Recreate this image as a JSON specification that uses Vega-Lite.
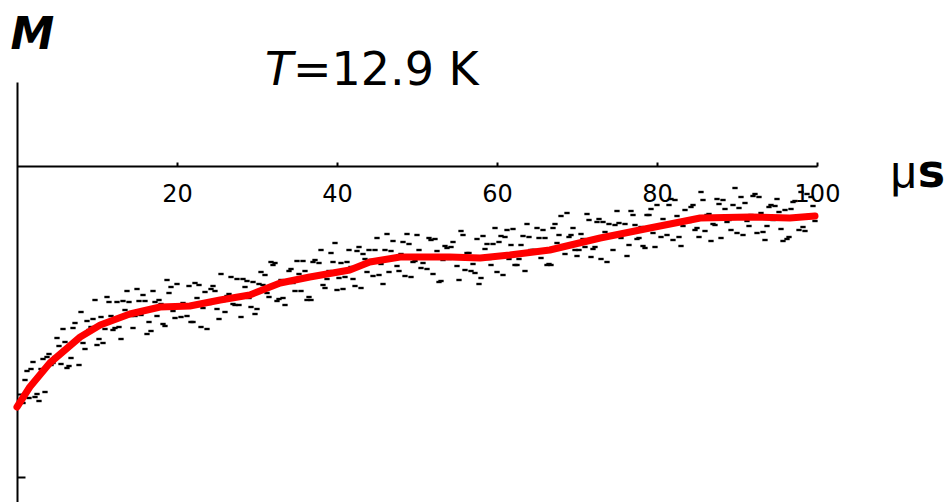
{
"$schema": "https://vega.github.io/schema/vega-lite/v6.json",
"width": 800, "height": 420,
"autosize": {"type": "none"},
"padding": {"left": 17, "top": 82, "right": 127, "bottom": 0},
"background": "white",
"config": {"view": {"stroke": null}, "font": "DejaVu Sans"},
"datasets": {
"fit": [
{"t":0,"M":0.95},{"t":1.6,"M":1.15},{"t":4.1,"M":1.39},{"t":7.9,"M":1.65},{"t":10.4,"M":1.77},{"t":14.1,"M":1.88},{"t":17.9,"M":1.95},{"t":21.6,"M":1.96},{"t":25.4,"M":2.02},{"t":29.1,"M":2.07},{"t":32.9,"M":2.19},{"t":36.6,"M":2.25},{"t":41.6,"M":2.32},{"t":44.1,"M":2.40},{"t":47.9,"M":2.45},{"t":54.1,"M":2.45},{"t":57.9,"M":2.44},{"t":61.6,"M":2.47},{"t":66.6,"M":2.52},{"t":72.9,"M":2.64},{"t":75.4,"M":2.68},{"t":79.1,"M":2.74},{"t":82.9,"M":2.80},{"t":85.4,"M":2.84},{"t":91.6,"M":2.85},{"t":96.6,"M":2.84},{"t":99.75,"M":2.86}
],
"labels": [
{"label":"T","part":"italic"},{"label":"=12.9 K","part":"roman"}
]
},
"layer": [
{"data": {"values": [
{"t":1.0,"M":1.22},{"t":1.5,"M":1.04},{"t":2.0,"M":1.40},{"t":2.5,"M":1.08},{"t":3.0,"M":1.33},{"t":3.5,"M":1.10},{"t":4.0,"M":1.48},{"t":4.5,"M":1.39},{"t":5.0,"M":1.64},{"t":5.5,"M":1.38},
{"t":6.0,"M":1.60},{"t":6.5,"M":1.36},{"t":7.0,"M":1.74},{"t":7.5,"M":1.61},{"t":8.0,"M":1.90},{"t":8.5,"M":1.53},{"t":9.0,"M":1.72},{"t":9.5,"M":1.83},{"t":10.0,"M":1.57},{"t":10.5,"M":1.85},
{"t":11.0,"M":1.73},{"t":11.5,"M":2.00},{"t":12.0,"M":1.72},{"t":12.5,"M":2.00},{"t":13.0,"M":1.63},{"t":13.5,"M":1.92},{"t":14.0,"M":2.00},{"t":14.5,"M":1.74},{"t":15.0,"M":2.13},{"t":15.5,"M":1.87},
{"t":16.0,"M":2.01},{"t":16.5,"M":1.80},{"t":17.0,"M":2.11},{"t":17.5,"M":1.86},{"t":18.0,"M":1.98},{"t":18.5,"M":1.76},{"t":19.0,"M":2.09},{"t":19.5,"M":1.91},{"t":20.0,"M":2.18},{"t":20.5,"M":1.85},
{"t":21.0,"M":1.97},{"t":21.5,"M":2.16},{"t":22.0,"M":1.80},{"t":22.5,"M":2.04},{"t":23.0,"M":1.75},{"t":23.5,"M":2.10},{"t":24.0,"M":1.98},{"t":24.5,"M":2.16},{"t":25.0,"M":1.93},{"t":25.5,"M":2.28},
{"t":26.0,"M":1.90},{"t":26.5,"M":2.08},{"t":27.0,"M":1.98},{"t":27.5,"M":2.23},{"t":28.0,"M":1.85},{"t":28.5,"M":2.15},{"t":29.0,"M":2.04},{"t":29.5,"M":2.20},{"t":30.0,"M":1.93},{"t":30.5,"M":2.30},
{"t":31.0,"M":2.27},{"t":31.5,"M":2.05},{"t":32.0,"M":2.37},{"t":32.5,"M":2.01},{"t":33.0,"M":2.22},{"t":33.5,"M":1.97},{"t":34.0,"M":2.31},{"t":34.5,"M":2.19},{"t":35.0,"M":2.41},{"t":35.5,"M":2.11},
{"t":36.0,"M":2.31},{"t":36.5,"M":2.05},{"t":37.0,"M":2.40},{"t":37.5,"M":2.25},{"t":38.0,"M":2.52},{"t":38.5,"M":2.14},{"t":39.0,"M":2.31},{"t":39.5,"M":2.40},{"t":40.0,"M":2.12},{"t":40.5,"M":2.39},
{"t":41.0,"M":2.25},{"t":41.5,"M":2.52},{"t":42.0,"M":2.23},{"t":42.5,"M":2.51},{"t":43.0,"M":2.14},{"t":43.5,"M":2.43},{"t":44.0,"M":2.52},{"t":44.5,"M":2.26},{"t":45.0,"M":2.64},{"t":45.5,"M":2.38},
{"t":46.0,"M":2.52},{"t":46.5,"M":2.30},{"t":47.0,"M":2.61},{"t":47.5,"M":2.36},{"t":48.0,"M":2.48},{"t":48.5,"M":2.26},{"t":49.0,"M":2.58},{"t":49.5,"M":2.40},{"t":50.0,"M":2.67},{"t":50.5,"M":2.34},
{"t":51.0,"M":2.45},{"t":51.5,"M":2.64},{"t":52.0,"M":2.28},{"t":52.5,"M":2.51},{"t":53.0,"M":2.21},{"t":53.5,"M":2.56},{"t":54.0,"M":2.43},{"t":54.5,"M":2.60},{"t":55.0,"M":2.36},{"t":55.5,"M":2.71},
{"t":56.0,"M":2.32},{"t":56.5,"M":2.49},{"t":57.0,"M":2.38},{"t":57.5,"M":2.63},{"t":58.0,"M":2.24},{"t":58.5,"M":2.53},{"t":59.0,"M":2.43},{"t":59.5,"M":2.58},{"t":60.0,"M":2.30},{"t":60.5,"M":2.66},
{"t":61.0,"M":2.65},{"t":61.5,"M":2.43},{"t":62.0,"M":2.73},{"t":62.5,"M":2.37},{"t":63.0,"M":2.57},{"t":63.5,"M":2.31},{"t":64.0,"M":2.65},{"t":64.5,"M":2.52},{"t":65.0,"M":2.74},{"t":65.5,"M":2.44},
{"t":66.0,"M":2.64},{"t":66.5,"M":2.38},{"t":67.0,"M":2.74},{"t":67.5,"M":2.59},{"t":68.0,"M":2.86},{"t":68.5,"M":2.48},{"t":69.0,"M":2.65},{"t":69.5,"M":2.74},{"t":70.0,"M":2.46},{"t":70.5,"M":2.68},
{"t":71.0,"M":2.55},{"t":71.5,"M":2.82},{"t":72.0,"M":2.53},{"t":72.5,"M":2.80},{"t":73.0,"M":2.43},{"t":73.5,"M":2.70},{"t":74.0,"M":2.78},{"t":74.5,"M":2.52},{"t":75.0,"M":2.91},{"t":75.5,"M":2.64},
{"t":76.0,"M":2.78},{"t":76.5,"M":2.57},{"t":77.0,"M":2.87},{"t":77.5,"M":2.63},{"t":78.0,"M":2.75},{"t":78.5,"M":2.54},{"t":79.0,"M":2.87},{"t":79.5,"M":2.69},{"t":80.0,"M":2.97},{"t":80.5,"M":2.65},
{"t":81.0,"M":2.77},{"t":81.5,"M":2.97},{"t":82.0,"M":2.62},{"t":82.5,"M":2.86},{"t":83.0,"M":2.56},{"t":83.5,"M":2.92},{"t":84.0,"M":2.80},{"t":84.5,"M":2.97},{"t":85.0,"M":2.74},{"t":85.5,"M":3.10},
{"t":86.0,"M":2.71},{"t":86.5,"M":2.88},{"t":87.0,"M":2.78},{"t":87.5,"M":3.03},{"t":88.0,"M":2.64},{"t":88.5,"M":2.93},{"t":89.0,"M":2.82},{"t":89.5,"M":2.97},{"t":90.0,"M":2.69},{"t":90.5,"M":3.05},
{"t":91.0,"M":2.99},{"t":91.5,"M":2.76},{"t":92.0,"M":3.06},{"t":92.5,"M":2.69},{"t":93.0,"M":2.89},{"t":93.5,"M":2.62},{"t":94.0,"M":2.95},{"t":94.5,"M":2.82},{"t":95.0,"M":3.03},{"t":95.5,"M":2.73},
{"t":96.0,"M":2.92},{"t":96.5,"M":2.65},{"t":97.0,"M":3.00},{"t":97.5,"M":2.84},{"t":98.0,"M":3.10},{"t":98.5,"M":2.71},{"t":99.0,"M":2.87},{"t":99.5,"M":2.96},
{"t":1.25,"M":1.31},{"t":2.25,"M":1.05},{"t":3.25,"M":1.43},{"t":4.25,"M":1.37},{"t":5.25,"M":1.56},{"t":6.25,"M":1.34},{"t":7.25,"M":1.79},{"t":8.25,"M":1.59},{"t":9.25,"M":1.75},{"t":10.25,"M":1.63},
{"t":11.25,"M":2.05},{"t":12.25,"M":1.74},{"t":13.25,"M":2.01},{"t":14.25,"M":1.86},{"t":15.25,"M":2.01},{"t":16.25,"M":1.68},{"t":17.25,"M":2.00},{"t":18.25,"M":1.78},{"t":19.25,"M":2.15},{"t":20.25,"M":1.96},
{"t":21.25,"M":1.86},{"t":22.25,"M":2.19},{"t":23.25,"M":1.94},{"t":24.25,"M":2.13},{"t":25.25,"M":1.83},{"t":26.25,"M":2.06},{"t":27.25,"M":1.97},{"t":28.25,"M":2.23},{"t":29.25,"M":1.95},{"t":30.25,"M":2.18},
{"t":31.25,"M":2.09},{"t":32.25,"M":2.39},{"t":33.25,"M":2.04},{"t":34.25,"M":2.33},{"t":35.25,"M":2.28},{"t":36.25,"M":2.02},{"t":37.25,"M":2.42},{"t":38.25,"M":2.17},{"t":39.25,"M":2.49},{"t":40.25,"M":2.24},
{"t":41.25,"M":2.40},{"t":42.25,"M":2.16},{"t":43.25,"M":2.48},{"t":44.25,"M":2.42},{"t":45.25,"M":2.27},{"t":46.25,"M":2.68},{"t":47.25,"M":2.43},{"t":48.25,"M":2.60},{"t":49.25,"M":2.25},{"t":50.25,"M":2.52},
{"t":51.25,"M":2.33},{"t":52.25,"M":2.63},{"t":53.25,"M":2.42},{"t":54.25,"M":2.55},{"t":55.25,"M":2.22},{"t":56.25,"M":2.49},{"t":57.25,"M":2.29},{"t":58.25,"M":2.66},{"t":59.25,"M":2.37},{"t":60.25,"M":2.60},
{"t":61.25,"M":2.72},{"t":62.25,"M":2.37},{"t":63.25,"M":2.66},{"t":64.25,"M":2.52},{"t":65.25,"M":2.64},{"t":66.25,"M":2.37},{"t":67.25,"M":2.78},{"t":68.25,"M":2.55},{"t":69.25,"M":2.67},{"t":70.25,"M":2.52},
{"t":71.25,"M":2.88},{"t":72.25,"M":2.55},{"t":73.25,"M":2.80},{"t":74.25,"M":2.65},{"t":75.25,"M":2.79},{"t":76.25,"M":2.46},{"t":77.25,"M":2.77},{"t":78.25,"M":2.56},{"t":79.25,"M":2.93},{"t":80.25,"M":2.76},
{"t":81.25,"M":2.67},{"t":82.25,"M":3.02},{"t":83.25,"M":2.76},{"t":84.25,"M":2.95},{"t":85.25,"M":2.65},{"t":86.25,"M":2.87},{"t":87.25,"M":2.77},{"t":88.25,"M":3.02},{"t":89.25,"M":2.72},{"t":90.25,"M":2.94},
{"t":91.25,"M":2.81},{"t":92.25,"M":3.08},{"t":93.25,"M":2.70},{"t":94.25,"M":2.97},{"t":95.25,"M":2.90},{"t":96.25,"M":2.63},{"t":97.25,"M":3.01},{"t":98.25,"M":2.75},{"t":99.25,"M":3.05},
{"t":0.75,"M":0.99},{"t":1.75,"M":1.33},{"t":2.75,"M":1.01},{"t":3.75,"M":1.45},{"t":4.75,"M":1.45},{"t":5.75,"M":1.73},{"t":6.75,"M":1.44},{"t":7.75,"M":1.37},{"t":8.75,"M":1.81},{"t":9.75,"M":2.02},
{"t":10.75,"M":1.59},{"t":11.75,"M":1.86},{"t":12.75,"M":1.75},{"t":13.75,"M":2.11},{"t":14.75,"M":1.86},{"t":15.75,"M":2.07},{"t":16.75,"M":1.71},{"t":17.75,"M":2.02},{"t":18.75,"M":2.22},{"t":19.75,"M":1.84},
{"t":20.75,"M":1.99},{"t":21.75,"M":1.80},{"t":22.75,"M":2.17},{"t":23.75,"M":1.73},{"t":24.75,"M":2.11},{"t":25.75,"M":2.01},{"t":26.75,"M":2.25},{"t":27.75,"M":1.97},{"t":28.75,"M":2.21},{"t":29.75,"M":1.88},
{"t":30.75,"M":2.17},{"t":31.75,"M":2.40},{"t":32.75,"M":2.03},{"t":33.75,"M":2.20},{"t":34.75,"M":2.11},{"t":35.75,"M":2.41},{"t":36.75,"M":2.02},{"t":37.75,"M":2.39},{"t":38.75,"M":2.23},{"t":39.75,"M":2.59},
{"t":40.75,"M":2.13},{"t":41.75,"M":2.35},{"t":42.75,"M":2.55},{"t":43.75,"M":2.30},{"t":44.75,"M":2.52},{"t":45.75,"M":2.18},{"t":46.75,"M":2.51},{"t":47.75,"M":2.31},{"t":48.75,"M":2.68},{"t":49.75,"M":2.41},
{"t":50.75,"M":2.39},{"t":51.75,"M":2.62},{"t":52.75,"M":2.20},{"t":53.75,"M":2.54},{"t":54.75,"M":2.46},{"t":55.75,"M":2.67},{"t":56.75,"M":2.31},{"t":57.75,"M":2.18},{"t":58.75,"M":2.58},{"t":59.75,"M":2.74},
{"t":60.75,"M":2.27},{"t":61.75,"M":2.57},{"t":62.75,"M":2.43},{"t":63.75,"M":2.78},{"t":64.75,"M":2.52},{"t":65.75,"M":2.72},{"t":66.75,"M":2.37},{"t":67.75,"M":2.67},{"t":68.75,"M":2.89},{"t":69.75,"M":2.52},
{"t":70.75,"M":2.63},{"t":71.75,"M":2.45},{"t":72.75,"M":2.83},{"t":73.75,"M":2.40},{"t":74.75,"M":2.77},{"t":75.75,"M":2.68},{"t":76.75,"M":2.91},{"t":77.75,"M":2.64},{"t":78.75,"M":2.87},{"t":79.75,"M":2.55},
{"t":80.75,"M":2.83},{"t":81.75,"M":3.03},{"t":82.75,"M":2.65},{"t":83.75,"M":2.81},{"t":84.75,"M":2.72},{"t":85.75,"M":3.02},{"t":86.75,"M":2.61},{"t":87.75,"M":2.98},{"t":88.75,"M":2.80},{"t":89.75,"M":3.14},
{"t":90.75,"M":2.67},{"t":91.75,"M":2.87},{"t":92.75,"M":3.05},{"t":93.75,"M":2.76},{"t":94.75,"M":2.96},{"t":95.75,"M":2.61},{"t":96.75,"M":2.93},{"t":97.75,"M":2.72},{"t":98.75,"M":3.08},{"t":99.75,"M":2.81}
]},
 "mark": {"type": "point", "shape": "M-1,-0.45H1V0.45H-1Z", "filled": true, "color": "black", "size": 28, "opacity": 1},
 "encoding": {
  "x": {"field": "t", "type": "quantitative", "scale": {"domain": [0, 100], "nice": false, "zero": false},
   "axis": {"orient": "bottom", "offset": -336, "values": [20, 40, 60, 80, 100], "tickSize": -4, "tickWidth": 2, "tickColor": "black", "domainColor": "black", "domainWidth": 2, "labelFontSize": 24, "labelColor": "black", "labelPadding": 20, "labelFont": "DejaVu Sans", "labelFlush": false, "labelOverlap": false, "grid": false,
    "title": "μ", "titleFont": "Liberation Sans", "titleFontSize": 46, "titleFontWeight": "normal", "titleColor": "black", "titleAngle": 0, "titleAlign": "left", "titleBaseline": "alphabetic", "titleX": 873, "titleY": 21}},
  "y": {"field": "M", "type": "quantitative", "scale": {"domain": [0, 4.2], "nice": false, "zero": false},
   "axis": {"orient": "left", "values": [0.25, 1.08], "labels": false, "tickSize": -8, "tickWidth": 2, "tickColor": "black", "domainColor": "black", "domainWidth": 2, "grid": false,
    "title": "M", "titleFont": "DejaVu Sans", "titleFontSize": 44, "titleFontStyle": "italic", "titleFontWeight": "bold", "titleColor": "black", "titleAngle": 0, "titleAlign": "left", "titleBaseline": "alphabetic", "titleX": -7, "titleY": -34}}
 }},
{"data": {"name": "fit"}, "mark": {"type": "line", "color": "#ff0000", "strokeWidth": 7, "strokeJoin": "round", "strokeCap": "round"},
 "encoding": {"x": {"field": "t", "type": "quantitative"}, "y": {"field": "M", "type": "quantitative"}}},
{"data": {"name": "labels"}, "transform": [{"filter": "datum.part == 'italic'"}], "mark": {"type": "text", "font": "DejaVu Sans", "fontSize": 46, "fontStyle": "italic", "align": "left", "baseline": "alphabetic", "color": "black"},
 "encoding": {"x": {"datum": 31, "type": "quantitative"}, "y": {"datum": 4.17, "type": "quantitative"}, "text": {"field": "label"}}},
{"data": {"name": "labels"}, "transform": [{"filter": "datum.part == 'roman'"}], "mark": {"type": "text", "font": "DejaVu Sans", "fontSize": 46, "align": "left", "baseline": "alphabetic", "color": "black"},
 "encoding": {"x": {"datum": 34.5, "type": "quantitative"}, "y": {"datum": 4.17, "type": "quantitative"}, "text": {"field": "label"}}},
{"data": {"values": [{"unit": "s"}]}, "mark": {"type": "text", "font": "DejaVu Sans", "fontSize": 46, "fontWeight": "bold", "align": "left", "baseline": "alphabetic", "color": "black"},
 "encoding": {"x": {"datum": 112.6, "type": "quantitative"}, "y": {"datum": 3.15, "type": "quantitative"}, "text": {"field": "unit"}}}
]
}
